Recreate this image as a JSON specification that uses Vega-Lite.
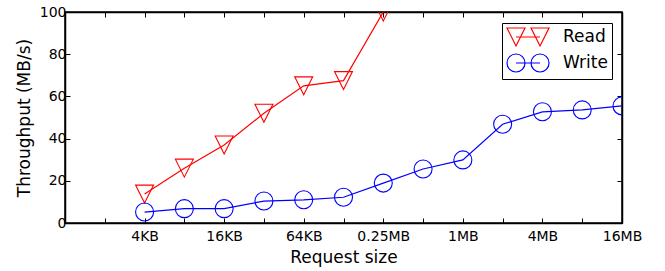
{
  "$schema": "https://vega.github.io/schema/vega-lite/v6.json",
  "width": 557,
  "height": 211,
  "autosize": {"type": "none"},
  "padding": {"left": 65, "top": 12, "right": 43, "bottom": 48},
  "config": {
    "font": "DejaVu Sans",
    "view": {"stroke": "black", "strokeWidth": 1.5},
    "axis": {
      "grid": false,
      "domainColor": "black",
      "domainWidth": 1.5,
      "tickColor": "black",
      "tickWidth": 1,
      "tickSize": -5,
      "labelFontSize": 14,
      "labelColor": "black",
      "titleFontSize": 17,
      "titleFontWeight": "normal",
      "titleColor": "black",
      "labelOverlap": false,
      "labelFlush": false
    }
  },
  "data": {
    "values": [
      {"size": 4, "throughput": 13.7, "type": "Read"},
      {"size": 8, "throughput": 26, "type": "Read"},
      {"size": 16, "throughput": 37, "type": "Read"},
      {"size": 32, "throughput": 52, "type": "Read"},
      {"size": 64, "throughput": 65, "type": "Read"},
      {"size": 128, "throughput": 67.5, "type": "Read"},
      {"size": 256, "throughput": 100, "type": "Read"},
      {"size": 4, "throughput": 5.2, "type": "Write"},
      {"size": 8, "throughput": 6.8, "type": "Write"},
      {"size": 16, "throughput": 6.8, "type": "Write"},
      {"size": 32, "throughput": 10.4, "type": "Write"},
      {"size": 64, "throughput": 11, "type": "Write"},
      {"size": 128, "throughput": 12.2, "type": "Write"},
      {"size": 256, "throughput": 18.9, "type": "Write"},
      {"size": 512, "throughput": 25.6, "type": "Write"},
      {"size": 1024, "throughput": 29.9, "type": "Write"},
      {"size": 2048, "throughput": 46.8, "type": "Write"},
      {"size": 4096, "throughput": 52.7, "type": "Write"},
      {"size": 8192, "throughput": 53.6, "type": "Write"},
      {"size": 16384, "throughput": 55.5, "type": "Write"}
    ]
  },
  "layer": [
    {
      "mark": {"type": "line", "strokeWidth": 1.2, "clip": true},
      "encoding": {
        "x": {
          "field": "size",
          "type": "quantitative",
          "scale": {"type": "log", "base": 2, "domain": [1, 16384]},
          "axis": {
            "orient": "bottom",
            "title": "Request size",
            "values": [2, 4, 8, 16, 32, 64, 128, 256, 512, 1024, 2048, 4096, 8192, 16384],
            "labelExpr": "datum.value==4?'4KB':datum.value==16?'16KB':datum.value==64?'64KB':datum.value==256?'0.25MB':datum.value==1024?'1MB':datum.value==4096?'4MB':datum.value==16384?'16MB':''",
            "labelPadding": 11,
            "titlePadding": 6
          }
        },
        "y": {
          "field": "throughput",
          "type": "quantitative",
          "scale": {"domain": [0, 100]},
          "axis": {
            "orient": "left",
            "title": "Throughput (MB/s)",
            "values": [0, 20, 40, 60, 80, 100],
            "labelPadding": 4,
            "titlePadding": 6
          }
        },
        "color": {
          "field": "type",
          "type": "nominal",
          "scale": {"domain": ["Read", "Write"], "range": ["#ff0000", "#0000ff"]},
          "legend": {
            "title": null,
            "orient": "none",
            "legendX": 437,
            "legendY": 11,
            "strokeColor": "black",
            "fillColor": "white",
            "padding": 4,
            "cornerRadius": 0,
            "labelFontSize": 17,
            "labelColor": "black",
            "symbolSize": 324,
            "symbolStrokeWidth": 1.2,
            "labelOffset": 37,
            "rowPadding": 2,
            "encode": {
              "symbols": {
                "update": {
                  "shape": {"signal": "datum.value === 'Read' ? 'M-1,-1L1,-1L0,1Z M1.67,-1L3.67,-1L2.67,1Z M0,0L2.67,0' : 'M1,0A1,1,0,1,1,-1,0A1,1,0,1,1,1,0Z M3.67,0A1,1,0,1,1,1.67,0A1,1,0,1,1,3.67,0Z M0,0L2.67,0'"},
                  "fill": {"value": "transparent"}
                }
              }
            }
          }
        }
      }
    },
    {
      "transform": [{"filter": "datum.type === 'Read'"}],
      "mark": {"type": "point", "shape": "M-1,-1L1,-1L0,1Z", "size": 324, "strokeWidth": 1.1, "filled": false, "clip": true, "opacity": 1, "color": "#ff0000"},
      "encoding": {
        "x": {
          "field": "size",
          "type": "quantitative",
          "scale": {"type": "log", "base": 2, "domain": [1, 16384]},
          "axis": {
            "orient": "top",
            "title": null,
            "labels": false,
            "values": [2, 4, 8, 16, 32, 64, 128, 256, 512, 1024, 2048, 4096, 8192, 16384]
          }
        },
        "y": {
          "field": "throughput",
          "type": "quantitative",
          "scale": {"domain": [0, 100]},
          "axis": {
            "orient": "right",
            "title": null,
            "labels": false,
            "values": [0, 20, 40, 60, 80, 100]
          }
        }
      }
    },
    {
      "transform": [{"filter": "datum.type === 'Write'"}],
      "mark": {"type": "point", "shape": "circle", "size": 324, "strokeWidth": 1.1, "filled": false, "clip": true, "opacity": 1, "color": "#0000ff"},
      "encoding": {
        "x": {"field": "size", "type": "quantitative", "axis": null},
        "y": {"field": "throughput", "type": "quantitative", "axis": null}
      }
    }
  ],
  "resolve": {"axis": {"x": "independent", "y": "independent"}}
}
